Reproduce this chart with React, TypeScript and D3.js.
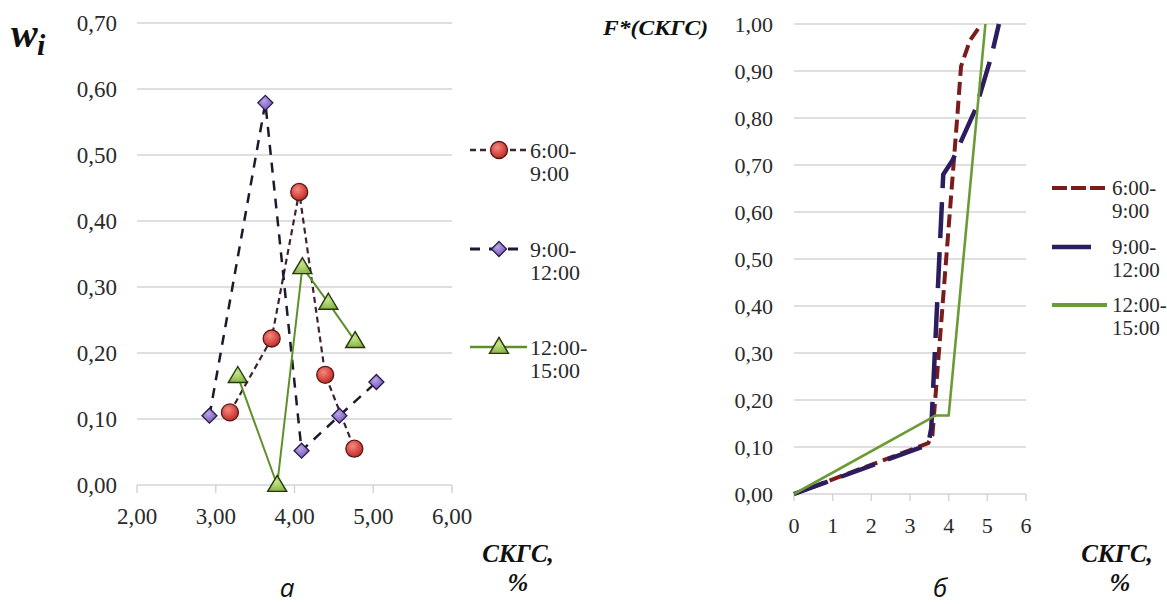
import React from "react";
import * as d3 from "d3";

// ---------- Data ----------
const seriesNames = ["6:00-9:00", "9:00-12:00", "12:00-15:00"];

// Panel а: relative frequencies w_i vs СКГС, %
const morningX = [3.18, 3.71, 4.06, 4.39, 4.76];
const morningW = [0.11, 0.222, 0.444, 0.167, 0.055];
const middayX = [2.92, 3.63, 4.09, 4.57, 5.04];
const middayW = [0.105, 0.579, 0.052, 0.105, 0.156];
const afternoonX = [3.28, 3.78, 4.1, 4.43, 4.77];
const afternoonW = [0.165, 0.0, 0.33, 0.276, 0.218];

// Panel б: empirical distribution F*(СКГС)
const morningCdfX = [0, 3.47, 3.58, 4.22, 4.32, 4.55, 4.85];
const morningCdfF = [0, 0.108, 0.125, 0.8, 0.91, 0.965, 1.0];
const middayCdfX = [0, 3.47, 3.55, 3.86, 4.1, 4.7, 5.1, 5.3];
const middayCdfF = [0, 0.105, 0.14, 0.68, 0.71, 0.82, 0.93, 1.0];
const afternoonCdfX = [0, 3.45, 3.65, 4.0, 4.95];
const afternoonCdfF = [0, 0.157, 0.167, 0.167, 1.0];

const leftYTicks = [0, 0.1, 0.2, 0.3, 0.4, 0.5, 0.6, 0.7];
const leftXTicks = [2, 3, 4, 5, 6];
const rightYTicks = [0, 0.1, 0.2, 0.3, 0.4, 0.5, 0.6, 0.7, 0.8, 0.9, 1.0];
const rightXTicks = [0, 1, 2, 3, 4, 5, 6];

const fmt2 = (v: number) => v.toFixed(2).replace(".", ",");

const SERIF = "'Liberation Serif', 'DejaVu Serif', 'Times New Roman', Times, serif";
const GRID = "#d4d4d4";
const TXT = "#2a2a2a";

const serif = (size: number, bold = false, italic = false): React.CSSProperties => ({
  fontFamily: SERIF,
  fontSize: size + "px",
  fontWeight: bold ? "bold" : "normal",
  fontStyle: italic ? "italic" : "normal",
});

// ---------- Scales ----------
const xL = d3.scaleLinear().domain([2, 6]).range([137, 452]);
const yL = d3.scaleLinear().domain([0, 0.7]).range([485, 23]);
const xR = d3.scaleLinear().domain([0, 6]).range([794, 1026]);
const yR = d3.scaleLinear().domain([0, 1]).range([494, 24]);

type P = [number, number];
const zip = (xs: number[], ys: number[]): P[] => xs.map((x, i) => [x, ys[i]]);

const lineL = d3.line<P>().x((d) => xL(d[0])).y((d) => yL(d[1]));
const lineR = d3.line<P>().x((d) => xR(d[0])).y((d) => yR(d[1]));

const leftStyles = [
  { stroke: "#3e2232", width: 2.2, dash: "6,4" },
  { stroke: "#1c1a2e", width: 2.5, dash: "10,8" },
  { stroke: "#5f8f2a", width: 2, dash: "" },
];
const rightStyles = [
  { stroke: "#7b1c1c", width: 4, dash: "13,6" },
  { stroke: "#2b1d5e", width: 4.5, dash: "36,14" },
  { stroke: "#6b9b35", width: 2.6, dash: "" },
];

function Marker({ kind, cx, cy }: { kind: number; cx: number; cy: number }) {
  if (kind === 0) {
    return (
      <circle cx={cx} cy={cy} r={8.5} fill="url(#gRed)" stroke="#5a1616" strokeWidth={1.3} />
    );
  }
  if (kind === 1) {
    const s = 7.5;
    return (
      <path
        d={`M${cx},${cy - s}L${cx + s},${cy}L${cx},${cy + s}L${cx - s},${cy}Z`}
        fill="url(#gPur)"
        stroke="#2a1a4a"
        strokeWidth={1.3}
      />
    );
  }
  const w = 9.5;
  const h = 16;
  return (
    <path
      d={`M${cx},${cy - h * 0.6}L${cx + w},${cy + h * 0.4}L${cx - w},${cy + h * 0.4}Z`}
      fill="url(#gGrn)"
      stroke="#26360e"
      strokeWidth={1.4}
    />
  );
}

export default function App() {
  const leftSeries = [zip(morningX, morningW), zip(middayX, middayW), zip(afternoonX, afternoonW)];
  const rightSeries = [
    zip(morningCdfX, morningCdfF),
    zip(middayCdfX, middayCdfF),
    zip(afternoonCdfX, afternoonCdfF),
  ];
  const leftLegendY = [150, 249, 347];
  const rightLegendY = [188, 247, 305];

  const splitName = (n: string) => {
    const i = n.indexOf("-");
    return [n.slice(0, i + 1), n.slice(i + 1)];
  };

  return (
    <svg
      width={1167}
      height={604}
      style={{ position: "absolute", left: 0, top: 0, background: "#fff" }}
    >
      <defs>
        <radialGradient id="gRed" cx="40%" cy="35%" r="70%">
          <stop offset="0%" stopColor="#f08a80" />
          <stop offset="60%" stopColor="#d84a42" />
          <stop offset="100%" stopColor="#a82a26" />
        </radialGradient>
        <radialGradient id="gPur" cx="40%" cy="35%" r="70%">
          <stop offset="0%" stopColor="#b9a4e8" />
          <stop offset="100%" stopColor="#6f52b8" />
        </radialGradient>
        <radialGradient id="gGrn" cx="45%" cy="40%" r="70%">
          <stop offset="0%" stopColor="#c6e48a" />
          <stop offset="100%" stopColor="#7fb03e" />
        </radialGradient>
      </defs>
      <rect x={0} y={0} width={1167} height={604} fill="#fff" />

      {/* ================= Panel а ================= */}
      {leftYTicks.map((t) => (
        <g key={"ly" + t}>
          <line x1={xL(2)} x2={xL(6)} y1={yL(t)} y2={yL(t)} stroke={GRID} strokeWidth={1.5} />
          <text x={117} y={yL(t)} dy="0.35em" textAnchor="end" style={serif(23)} fill={TXT}>
            {fmt2(t)}
          </text>
        </g>
      ))}
      {leftXTicks.map((t) => (
        <g key={"lx" + t}>
          <line x1={xL(t)} x2={xL(t)} y1={yL(0)} y2={yL(0) + 8} stroke={GRID} strokeWidth={1.5} />
          <text x={xL(t)} y={516} dy="0.35em" textAnchor="middle" style={serif(23)} fill={TXT}>
            {fmt2(t)}
          </text>
        </g>
      ))}

      {leftSeries.map((s, i) => (
        <path
          key={"ll" + i}
          d={lineL(s) || ""}
          fill="none"
          stroke={leftStyles[i].stroke}
          strokeWidth={leftStyles[i].width}
          strokeDasharray={leftStyles[i].dash}
        />
      ))}
      {leftSeries.map((s, i) =>
        s.map((p, j) => <Marker key={"lm" + i + "-" + j} kind={i} cx={xL(p[0])} cy={yL(p[1])} />)
      )}

      {/* y label w_i */}
      <text x={11} y={47} style={serif(40, true, true)} fill="#111">
        w
      </text>
      <text x={37} y={55} style={serif(30, true, true)} fill="#111">
        i
      </text>

      {/* legend а */}
      {seriesNames.map((n, i) => {
        const y = leftLegendY[i];
        const [a, b] = splitName(n);
        return (
          <g key={"lg" + i}>
            <line
              x1={470}
              x2={527}
              y1={y}
              y2={y}
              stroke={leftStyles[i].stroke}
              strokeWidth={leftStyles[i].width + 0.3}
              strokeDasharray={i === 0 ? "6,4" : i === 1 ? "10,9" : ""}
            />
            <Marker kind={i} cx={499} cy={y} />
            <text x={530} y={y} dy="0.35em" style={serif(22)} fill={TXT}>
              {a}
            </text>
            <text x={530} y={y + 23} dy="0.35em" style={serif(22)} fill={TXT}>
              {b}
            </text>
          </g>
        );
      })}

      {/* x label а */}
      <text x={518} y={553} dy="0.35em" textAnchor="middle" style={serif(25, true, true)} fill="#111">
        СКГС,
      </text>
      <text x={518} y={582} dy="0.35em" textAnchor="middle" style={serif(25, true, true)} fill="#111">
        %
      </text>
      <text
        x={287}
        y={597}
        textAnchor="middle"
        style={{ fontFamily: "'Open Sans', 'DejaVu Sans', sans-serif", fontStyle: "italic", fontSize: "26px" }}
        fill="#111"
      >
        а
      </text>

      {/* ================= Panel б ================= */}
      {rightYTicks.map((t) => (
        <g key={"ry" + t}>
          <line x1={xR(0)} x2={xR(6)} y1={yR(t)} y2={yR(t)} stroke={GRID} strokeWidth={1.5} />
          <text x={773} y={yR(t)} dy="0.35em" textAnchor="end" style={serif(22)} fill={TXT}>
            {fmt2(t)}
          </text>
        </g>
      ))}
      {rightXTicks.map((t) => (
        <g key={"rx" + t}>
          <line x1={xR(t)} x2={xR(t)} y1={yR(0)} y2={yR(0) + 7} stroke={GRID} strokeWidth={1.5} />
          <text x={xR(t)} y={525} dy="0.35em" textAnchor="middle" style={serif(22)} fill={TXT}>
            {String(t)}
          </text>
        </g>
      ))}

      {rightSeries.map((s, i) => (
        <path
          key={"rl" + i}
          d={lineR(s) || ""}
          fill="none"
          stroke={rightStyles[i].stroke}
          strokeWidth={rightStyles[i].width}
          strokeDasharray={rightStyles[i].dash}
          strokeLinejoin="round"
        />
      ))}

      <text
        x={603}
        y={27}
        dy="0.35em"
        style={serif(22, true, true)}
        fill="#111"
        textLength={105}
        lengthAdjust="spacingAndGlyphs"
      >
        F*(СКГС)
      </text>

      {/* legend б */}
      {seriesNames.map((n, i) => {
        const y = rightLegendY[i];
        const [a, b] = splitName(n);
        return (
          <g key={"rg" + i}>
            <line
              x1={1052}
              x2={i === 1 ? 1091 : 1107}
              y1={y}
              y2={y}
              stroke={rightStyles[i].stroke}
              strokeWidth={i === 2 ? 4 : rightStyles[i].width}
              strokeDasharray={i === 0 ? "15,4" : ""}
            />
            <text x={1112} y={y} dy="0.35em" style={serif(21)} fill={TXT}>
              {a}
            </text>
            <text x={1112} y={y + 23} dy="0.35em" style={serif(21)} fill={TXT}>
              {b}
            </text>
          </g>
        );
      })}

      <text x={1117} y={553} dy="0.35em" textAnchor="middle" style={serif(25, true, true)} fill="#111">
        СКГС,
      </text>
      <text x={1120} y={582} dy="0.35em" textAnchor="middle" style={serif(25, true, true)} fill="#111">
        %
      </text>
      <text
        x={940}
        y={597}
        textAnchor="middle"
        style={{ fontFamily: "'Open Sans', 'DejaVu Sans', sans-serif", fontStyle: "italic", fontSize: "26px" }}
        fill="#111"
      >
        б
      </text>
    </svg>
  );
}
